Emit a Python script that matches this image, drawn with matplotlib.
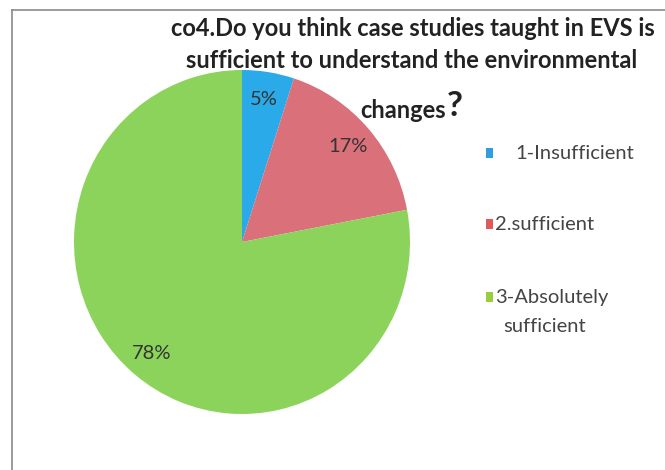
import matplotlib
matplotlib.use("Agg")
import matplotlib.pyplot as plt
from matplotlib.patches import Rectangle
from matplotlib.lines import Line2D

categories = ["1-Insufficient", "2.sufficient", "3-Absolutely\nsufficient"]
values = [5, 17, 78]
colors = ["#2AAAE8", "#DA707A", "#8CD35C"]
legend_colors = ["#2E9FD8", "#E05A5A", "#9ACD3C"]
title_lines = ["co4.Do you think case studies taught in EVS is",
               "sufficient to understand the environmental"]

W, H = 665, 470
fig = plt.figure(figsize=(W / 100, H / 100), dpi=100)
fig.patch.set_facecolor("white")

FONT = ["Lato", "DejaVu Sans"]

# chart frame (partially visible)
fig.add_artist(Line2D([12 / W, 12 / W], [0, 1 - 10 / H], color="#8a8a8a", lw=1.2))
fig.add_artist(Line2D([12 / W, 1], [1 - 10 / H, 1 - 10 / H], color="#8a8a8a", lw=1.2))

# pie axes: center (242, 242), rx 168, ry 172
cx, cy, rx, ry = 242, 242, 168, 172
ax = fig.add_axes([(cx - rx) / W, (H - cy - ry) / H, 2 * rx / W, 2 * ry / H])
wedges, texts, autotexts = ax.pie(
    values, colors=colors, startangle=90, counterclock=False,
    autopct="%1.0f%%", pctdistance=0.84,
    textprops=dict(fontsize=14.5, color="#333333", family=FONT),
    wedgeprops=dict(linewidth=0))
ax.set_aspect("auto")
ax.set_xlim(-1, 1)
ax.set_ylim(-1, 1)
ax.axis("off")

# title
fig.text(413 / W, 1 - 29 / H, title_lines[0], ha="center", va="center",
         fontsize=17, fontweight="bold", color="#222222", family=FONT)
fig.text(412 / W, 1 - 61 / H, title_lines[1], ha="center", va="center",
         fontsize=17, fontweight="bold", color="#222222", family=FONT)
fig.text(360 / W, 1 - 110 / H, "changes", ha="left", va="center",
         fontsize=17, fontweight="bold", color="#222222", family=FONT)
fig.text(447 / W, 1 - 106 / H, "?", ha="left", va="center",
         fontsize=25, fontweight="bold", color="#222222", family=FONT)

# legend (manual)
legend_y = [153, 224, 297]
text_x = [515, 495, 495]
for i, (lab, col) in enumerate(zip(categories, legend_colors)):
    y = legend_y[i]
    fig.add_artist(Rectangle((486 / W, 1 - (y + 5) / H), 7 / W, 10 / H,
                             transform=fig.transFigure, facecolor=col, edgecolor="none"))
    lines = lab.split("\n")
    for j, ln in enumerate(lines):
        fig.text((text_x[i] + (8 if j > 0 else 0)) / W, 1 - (y + 29 * j) / H, ln,
                 ha="left", va="center", fontsize=14.5, color="#444444", family=FONT)

fig.savefig("out.png", dpi=100, facecolor="white")
